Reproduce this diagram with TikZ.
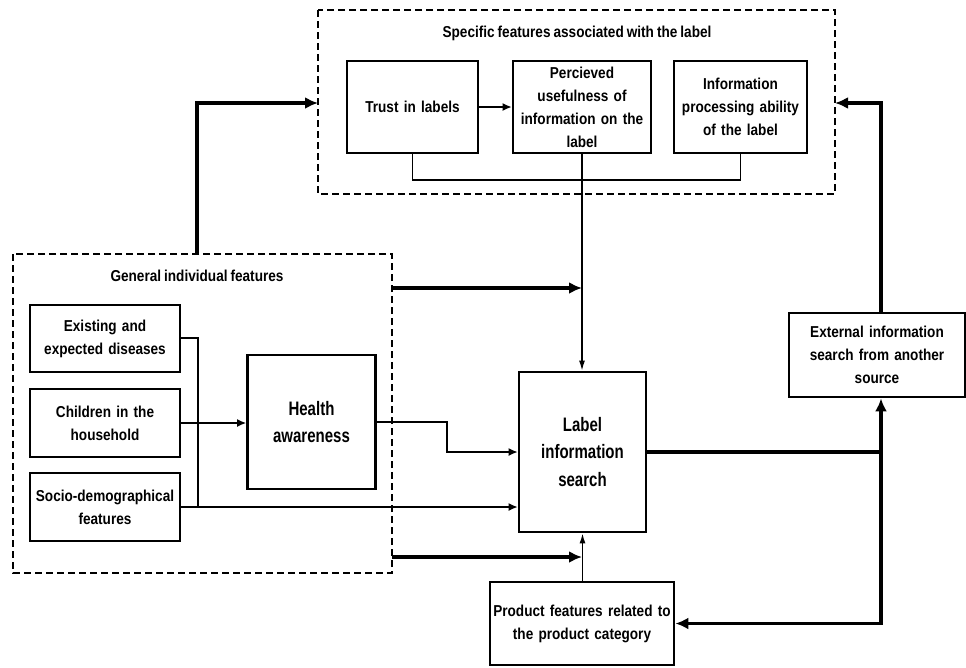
\documentclass[tikz,border=0pt]{standalone}
\usepackage{fontspec}
\setmainfont{Liberation Sans}[FakeStretch=0.86,WordSpace=0.8]
\newfontfamily\bigfont{Liberation Sans}[FakeStretch=0.77,WordSpace=0.8]
\usetikzlibrary{arrows.meta}
\begin{document}
\begin{tikzpicture}[x=1pt,y=-1pt,
  box/.style={draw,line width=2.8pt,align=center,inner sep=0pt,font=\fontsize{15.8}{23}\selectfont\bfseries},
  bigbox/.style={box,font=\bigfont\fontsize{19.5}{27.5}\selectfont\bfseries},
  group/.style={draw,line width=1.4pt,dash pattern=on 7pt off 4pt},
  title/.style={font=\fontsize{15.8}{23}\selectfont\bfseries,inner sep=0pt},
  thin/.style={line width=1.3pt,-{Latex[length=9pt,width=8pt]}},
  thinline/.style={line width=1.3pt},
  thick/.style={line width=3.2pt,-{Latex[length=13pt,width=12pt]}},
  thickline/.style={line width=3.2pt}]
\useasboundingbox[fill=white] (0,0) rectangle (966,667);
% group boxes
\draw[group] (318,10) rectangle (835,194);
\draw[group] (13,254) rectangle (392,573);
\node[title] (spectitle) at (577,33) {Specific features associated with the label};
\node[title] (gentitle) at (197,276) {General individual features};
% nodes
\node[box,minimum width=131pt,minimum height=92pt,text width=125pt] (trust) at (412.5,107) {Trust in labels};
\node[box,minimum width=138pt,minimum height=92pt,text width=132pt] (perc) at (582,107) {Percieved\\usefulness of\\information on the\\label};
\node[box,minimum width=133pt,minimum height=92pt,text width=127pt] (info) at (740.5,107) {Information\\processing ability\\of the label};
\node[box,minimum width=150pt,minimum height=67pt,text width=144pt] (exist) at (105,338.5) {Existing and\\expected diseases};
\node[box,minimum width=150pt,minimum height=68pt,text width=144pt] (child) at (105,423) {Children in the\\household};
\node[box,minimum width=150pt,minimum height=68pt,text width=144pt] (socio) at (105,507) {Socio-demographical\\features};
\node[bigbox,minimum width=128pt,minimum height=134pt,text width=122pt] (health) at (311.5,422) {Health\\awareness};
\node[bigbox,minimum width=127pt,minimum height=160pt,text width=121pt] (label) at (582.5,452) {Label\\information\\search};
\node[box,minimum width=176pt,minimum height=84pt,text width=170pt] (ext) at (877,355) {External information\\search from another\\source};
\node[box,minimum width=184pt,minimum height=83pt,text width=178pt] (prod) at (582,623.5) {Product features related to\\the product category};
% helper coordinates
\coordinate (genTop) at (197,254);
\coordinate (specLeft) at (318,103);
\coordinate (specRight) at (835,103);
\coordinate (genR1) at (392,288);
\coordinate (genR2) at (392,557);
\coordinate (vx) at (881,452);
\coordinate (lx) at (582,0);
% connectors
\draw[thin] (trust.east) -- (perc.west);
\draw[thinline] (trust.south) -- (412.5,180) -| (info.south);
\draw[line width=1.3pt,-{Latex[length=10pt,width=6pt]}] (perc.south) -- (label.north -| perc.south);
\draw[thick] (genTop) |- (specLeft);
\draw[thick] (vx |- ext.north) |- (specRight);
\draw[thick] (genR1) -- (genR1 -| lx);
\draw[thick] (genR2) -- (genR2 -| lx);
\draw[thinline] (exist.east |- 0,338) -- (198,338) -- (198,507);
\draw[thin] (child.east) -- (health.west |- child.east);
\draw[thin] (socio.east) -- (label.west |- socio.east);
\draw[thin] (health.east |- 0,422) -- (447,422) -- (447,452) -- (label.west);
\draw[line width=1.3pt,-{Latex[length=10pt,width=6pt]}] (prod.north -| label.south) -- (label.south);
\draw[thickline] (label.east) -- (vx);
\draw[thick] (vx) -- (vx |- ext.south);
\draw[thick] (vx) -- (vx |- prod.east) -- (prod.east);
\end{tikzpicture}
\end{document}
